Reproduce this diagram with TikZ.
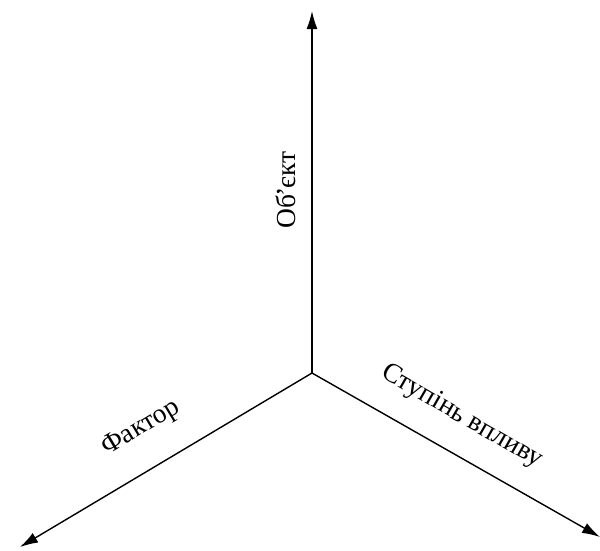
\documentclass[tikz,border=0pt]{standalone}
\usepackage{fontspec}
\setmainfont{Liberation Serif}
\usetikzlibrary{arrows.meta}
\begin{document}
\begin{tikzpicture}[x=1pt,y=-1pt,
  axis/.style={line width=1.4pt,-{Latex[length=18pt,width=11pt]}},
  lbl/.style={font=\fontsize{27.5}{30}\selectfont,inner sep=0pt}]
\useasboundingbox (0,0) rectangle (600,550);
\coordinate (o) at (312,373);
\coordinate (up) at (312,11);
\coordinate (left) at (20,547);
\coordinate (right) at (600,537);
\draw[axis] (o) -- (up);
\draw[axis] (o) -- (left);
\draw[axis] (o) -- (right);
\node[lbl,rotate=90] (obj) at (286,190) {Об\kern-2pt'\kern-1pt єкт};
\node[lbl,rotate=31] (fac) at (141,428) {Фактор};
\node[lbl,rotate=-30] (deg) at (462,417) {Ступінь впливу};
\end{tikzpicture}
\end{document}
